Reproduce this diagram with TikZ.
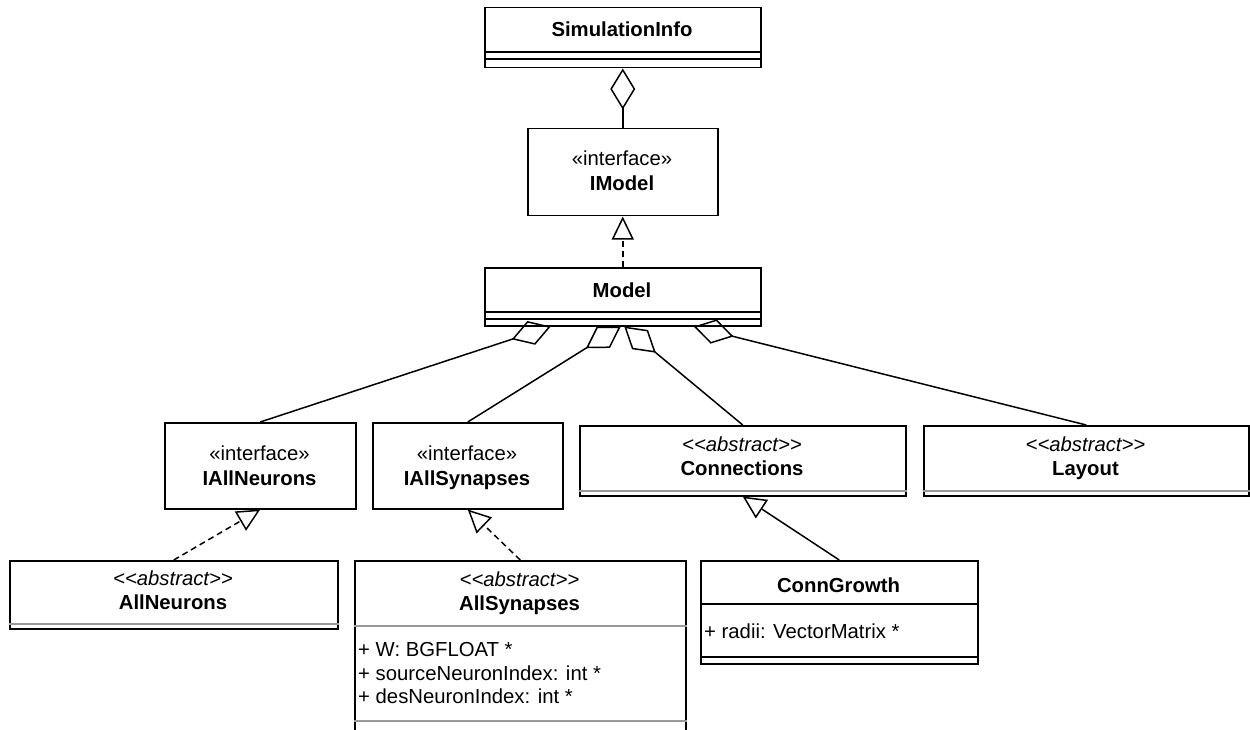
\documentclass[tikz,border=0pt]{standalone}
\usepackage{fontspec}
\setmainfont{Liberation Sans}
\usetikzlibrary{arrows.meta}
\newcommand\umlfont{\fontsize{20.3pt}{24pt}\selectfont}
% stereotype text; the kerns keep "<<" and ">>" from turning into guillemets
\newcommand\abstractst{\itshape <\kern0pt<abstract>\kern0pt>}

\begin{document}
\begin{tikzpicture}[x=1pt,y=-1pt,
  every node/.style={font=\umlfont, inner sep=0pt},
  box/.style={draw, fill=white, line width=1.5pt, rectangle, anchor=north west},
  sepblack/.style={line width=1.5pt},
  sepgray/.style={line width=1.2pt, draw=black!40},
  title/.style={anchor=base},
  attr/.style={anchor=base west},
  link/.style={line width=1.5pt},
  aggr/.style={link, {Diamond[open,length=41pt,width=25pt]}-},
  realize/.style={link, dash pattern=on 6pt off 4pt, -{Triangle[open,length=23pt,width=22pt]}},
  inherit/.style={link, -{Triangle[open,length=23pt,width=22pt]}}
]
\clip (0,0) rectangle (1250,730);
\fill[white] (0,0) rectangle (1250,730);

% class boxes
\node[box, minimum width=276pt, minimum height=60pt] (sim) at (484,7) {};
\node[box, minimum width=190pt, minimum height=87pt] (imodel) at (527,128) {};
\node[box, minimum width=276pt, minimum height=58pt] (model) at (484,267) {};
\node[box, minimum width=191pt, minimum height=86pt] (ianeur) at (164,422) {};
\node[box, minimum width=190pt, minimum height=86pt] (iasyn) at (372,422) {};
\node[box, minimum width=326pt, minimum height=70pt] (conn) at (579,425) {};
\node[box, minimum width=325pt, minimum height=70pt] (layout) at (923,425) {};
\node[box, minimum width=328pt, minimum height=68pt] (aneur) at (9,560) {};
\node[box, minimum width=331pt, minimum height=190pt] (asyn) at (354,560) {};
\node[box, minimum width=277pt, minimum height=103pt] (cgrowth) at (700,560) {};

% compartment separators
\newcommand\compsep[3]{\draw[#3] ([yshift=-#2pt]#1.north west) -- ([yshift=-#2pt]#1.north east);}
\compsep{sim}{45}{sepblack}
\compsep{sim}{52}{sepblack}
\compsep{model}{45}{sepblack}
\compsep{model}{52}{sepblack}
\compsep{conn}{66}{sepgray}
\compsep{layout}{66}{sepgray}
\compsep{aneur}{64}{sepgray}
\compsep{asyn}{66}{sepgray}
\compsep{asyn}{161}{sepgray}
\compsep{cgrowth}{44}{sepblack}
\compsep{cgrowth}{97}{sepblack}

% class texts
\node[title] (simT) at (622,37) {\bfseries SimulationInfo};
\node[title] (imodelS) at (622,166) {«interface»};
\node[title] (imodelN) at (622,191) {\bfseries IModel};
\node[title] (modelT) at (622,297) {\bfseries Model};
\node[title] (ianeurS) at (259.5,460) {«interface»};
\node[title] (ianeurN) at (259.5,485) {\bfseries IAllNeurons};
\node[title] (iasynS) at (467,460) {«interface»};
\node[title] (iasynN) at (467,485) {\bfseries IAllSynapses};
\node[title] (connS) at (742,451) {\abstractst};
\node[title] (connN) at (742,475) {\bfseries Connections};
\node[title] (layoutS) at (1085.5,451) {\abstractst};
\node[title] (layoutN) at (1085.5,475) {\bfseries Layout};
\node[title] (aneurS) at (173,585) {\abstractst};
\node[title] (aneurN) at (173,609) {\bfseries AllNeurons};
\node[title] (asynS) at (519.5,586) {\abstractst};
\node[title] (asynN) at (519.5,610) {\bfseries AllSynapses};
\node[attr] (asynA) at (358,656) {+ W: BGFLOAT *};
\node[attr] (asynB) at (358,680) {+ sourceNeuronIndex: int *};
\node[attr] (asynC) at (358,703) {+ desNeuronIndex: int *};
\node[title] (cgrowthN) at (838.5,592) {\bfseries ConnGrowth};
\node[attr] (cgrowthA) at (704,638) {+ radii: VectorMatrix *};

% relations
\draw[aggr] (sim.south) -- (imodel.north);
\draw[realize] (model.north) -- (imodel.south);
\draw[aggr] ([xshift=-72pt]model.south) -- (ianeur.north);
\draw[aggr] ([xshift=-2pt]model.south) -- (iasyn.north);
\draw[aggr] ([xshift=1.5pt]model.south) -- (conn.north);
\draw[aggr] ([xshift=71pt]model.south) -- (layout.north);
\draw[realize] (aneur.north) -- (ianeur.south);
\draw[realize] (asyn.north) -- (iasyn.south);
\draw[inherit] (cgrowth.north) -- (conn.south);
\end{tikzpicture}
\end{document}
